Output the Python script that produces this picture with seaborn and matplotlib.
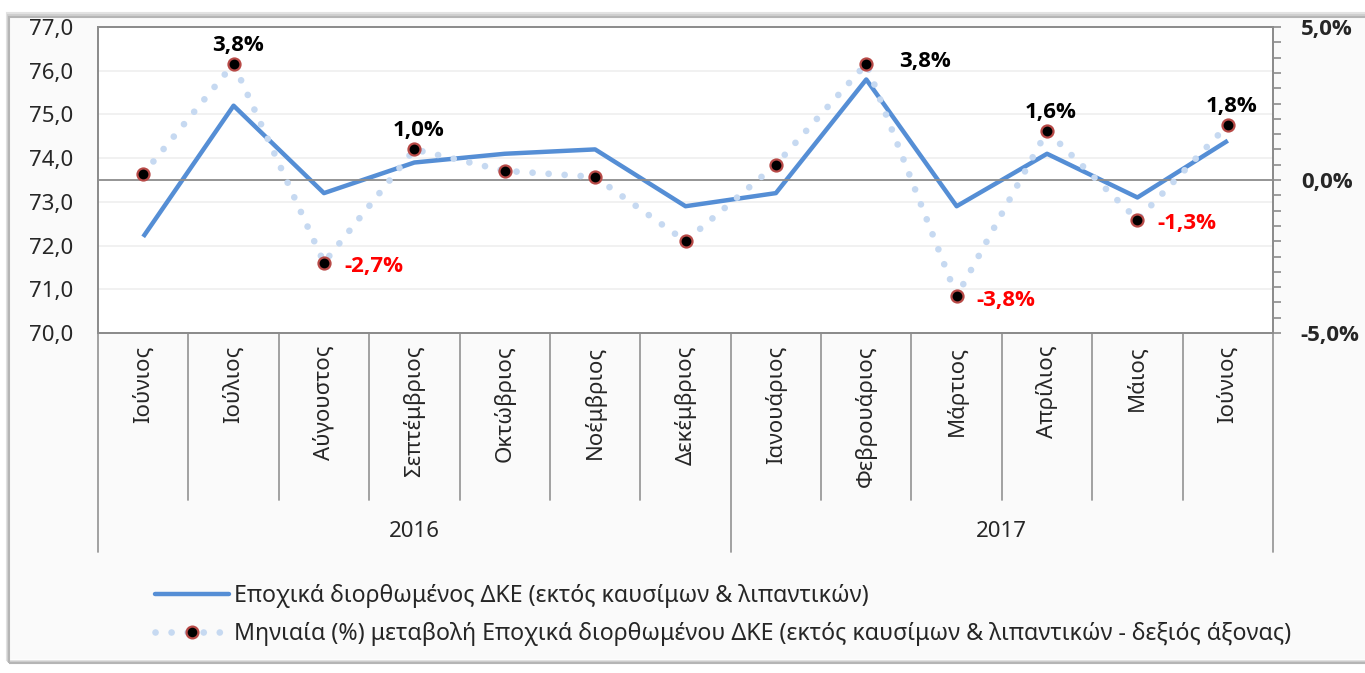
import numpy as np
import matplotlib
matplotlib.use('Agg')
import matplotlib.pyplot as plt
import matplotlib.transforms as mtransforms
from matplotlib.patches import Rectangle
from matplotlib.ticker import FixedLocator, MultipleLocator, FuncFormatter
from matplotlib.lines import Line2D
import seaborn as sns

# data
months = ['Ιούνιος', 'Ιούλιος', 'Αύγουστος', 'Σεπτέμβριος', 'Οκτώβριος', 'Νοέμβριος',
          'Δεκέμβριος', 'Ιανουάριος', 'Φεβρουάριος', 'Μάρτιος', 'Απρίλιος', 'Μάιος', 'Ιούνιος']
years = ['2016', '2017']
year_sizes = [7, 6]
index_sa = [72.2, 75.2, 73.2, 73.9, 74.1, 74.2, 72.9, 73.2, 75.8, 72.9, 74.1, 73.1, 74.4]
monthly_pct = [0.2, 3.8, -2.7, 1.0, 0.3, 0.1, -2.0, 0.5, 3.8, -3.8, 1.6, -1.3, 1.8]
label_idx = [1, 2, 3, 8, 9, 10, 11, 12]

series1 = 'Εποχικά διορθωμένος ΔΚΕ (εκτός καυσίμων & λιπαντικών)'
series2 = ('Μηνιαία (%) μεταβολή Εποχικά διορθωμένου ΔΚΕ '
           '(εκτός καυσίμων & λιπαντικών - δεξιός άξονας)')

BLUE = '#558ed5'
DOTS = '#c6d9f1'
GRAY = '#8c8c8c'
FS = 16
BOLD_FAMILY = ['Open Sans', 'DejaVu Sans']

sns.set_style('white')
plt.rcParams['font.family'] = ['Noto Sans', 'DejaVu Sans']

W, H = 1365, 673
fig = plt.figure(figsize=(W / 100, H / 100), dpi=100, facecolor='white')

# outer chart frame with a soft shadow
for k, c in enumerate(['#e2e2e2', '#cfcfcf', '#b5b5b5']):
    fig.patches.append(Rectangle(((7 + k) / W, (12 - k) / H), 1, (648 - k) / H,
                                 transform=fig.transFigure, facecolor='none',
                                 edgecolor=c, lw=1.5, zorder=-5))
fig.patches.append(Rectangle((10 / W, 14 / H), 1, 646 / H, transform=fig.transFigure,
                             facecolor='#fafafa', edgecolor='none', zorder=-6))

ax = fig.add_axes([98 / W, 1 - 333 / H, (1273 - 98) / W, 306 / H], zorder=2)
ax.set_facecolor('white')
x = np.arange(len(months))

sns.lineplot(x=x, y=index_sa, ax=ax, color=BLUE, lw=3.2, solid_capstyle='butt')
ax.set_xlim(-0.5, len(months) - 0.5)
ax.set_ylim(70, 77)
ax.yaxis.set_major_locator(MultipleLocator(1))
ax.yaxis.set_major_formatter(FuncFormatter(lambda v, p: f'{v:.1f}'.replace('.', ',')))
ax.grid(axis='y', color='#efefef', lw=1.2)
ax.grid(axis='x', visible=False)
ax.set_xticks(x)
ax.set_xticklabels(months, rotation=90, va='top', fontsize=FS)
ax.tick_params(axis='x', length=0, pad=9)
ax.tick_params(axis='y', length=0, pad=18, labelsize=FS)
for s in ax.spines.values():
    s.set_color(GRAY)
    s.set_linewidth(1.3)
ax.set_xlabel('')
ax.set_ylabel('')

ax2 = ax.twinx()
sns.lineplot(x=x, y=monthly_pct, ax=ax2, color=DOTS, lw=4.8,
             linestyle=(0, (0.01, 2.4)), dash_capstyle='round')
sns.scatterplot(x=x, y=monthly_pct, ax=ax2, color='black', edgecolor='#b84a47',
                s=75, linewidth=1.6, zorder=5)
ax2.axhline(0, color=GRAY, lw=1.3, zorder=1)
ax2.set_ylim(-5, 5)
ax2.yaxis.set_major_locator(FixedLocator([-5, 0, 5]))
ax2.yaxis.set_minor_locator(MultipleLocator(0.5))
ax2.yaxis.set_major_formatter(FuncFormatter(lambda v, p: f'{v:.1f}%'.replace('.', ',')))
ax2.tick_params(axis='y', which='both', length=6, width=1.2, color=GRAY, direction='out')
ax2.tick_params(axis='y', which='major', pad=14, labelsize=FS)
for t in ax2.get_yticklabels():
    t.set_fontweight('bold')
    t.set_family(BOLD_FAMILY)
ax2.grid(False)
ax2.set_ylabel('')
for s in ax2.spines.values():
    s.set_color(GRAY)
    s.set_linewidth(1.3)

# value labels
for i in label_idx:
    v = monthly_pct[i]
    txt = f'{v:.1f}%'.replace('.', ',')
    col = 'red' if v < 0 else 'black'
    if v < 0:
        off, ha, va = (20, -4), 'left', 'center'
    elif i == 8:
        off, ha, va = (33, 2), 'left', 'center'
    else:
        off, ha, va = (4, 8), 'center', 'bottom'
    ax2.annotate(txt, (x[i], v), xytext=off, textcoords='offset pixels', ha=ha, va=va,
                 fontsize=FS, fontweight='bold', family=BOLD_FAMILY, color=col, zorder=6)

# multi-level category axis separators
trans = mtransforms.blended_transform_factory(ax.transData, ax.transAxes)
bounds = np.arange(len(months) + 1) - 0.5
year_bounds = np.concatenate([[0], np.cumsum(year_sizes)]) - 0.5
for b in bounds:
    depth = -0.716 if b in year_bounds else -0.546
    ax.plot([b, b], [0, depth], transform=trans, color='#9a9a9a', lw=1.3, clip_on=False)
for k, yr in enumerate(years):
    cx = (year_bounds[k] + year_bounds[k + 1]) / 2
    ax.text(cx, -0.65, yr, transform=trans, ha='center', va='center', fontsize=FS)

handles = [Line2D([], [], color=BLUE, lw=3.2),
           Line2D([], [], color=DOTS, lw=4.8, linestyle=(0, (0.01, 2.4)),
                  dash_capstyle='round', marker='o', markersize=8.5,
                  markerfacecolor='black', markeredgecolor='#b84a47', markeredgewidth=1.6)]
fig.legend(handles, [series1, series2], loc='upper left',
           bbox_to_anchor=(134 / W, 1 - 563 / H), frameon=False, fontsize=16.7,
           handlelength=3.2, handletextpad=0.2, labelspacing=0.6)

fig.savefig('out.png', dpi=100, facecolor='white')
